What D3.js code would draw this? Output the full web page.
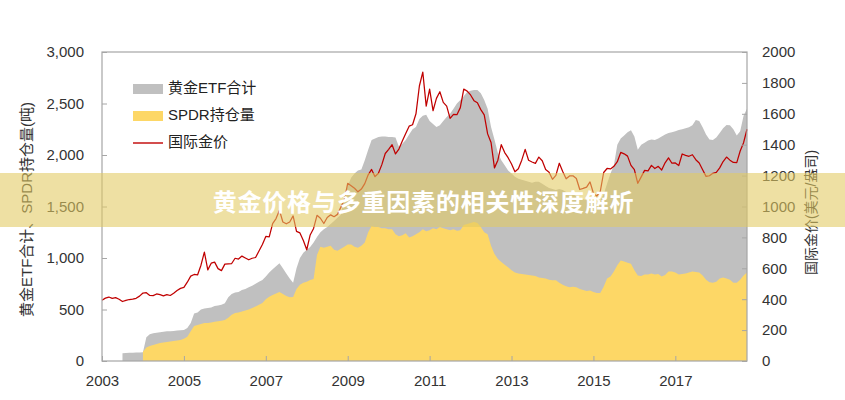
<!DOCTYPE html>
<html>
<head>
<meta charset="utf-8">
<script src="https://cdn.jsdelivr.net/npm/d3@7"></script>
<style>
    body { margin: 0; background: #fff; }
    svg { display: block; font-family: "Liberation Sans", Arial, "Noto Sans CJK SC", sans-serif; }
</style>
</head>
<body>
<div id="root"></div>
<script>
// eje X: mensual, empieza en 2003
const startYear = 2003
const endYear = 2018.75
const yearTicks = [2003, 2005, 2007, 2009, 2011, 2013, 2015, 2017]
const leftTicks = [0, 500, 1000, 1500, 2000, 2500, 3000]
const rightTicks = [0, 200, 400, 600, 800, 1000, 1200, 1400, 1600, 1800, 2000]

const legendLabels = ["黄金ETF合计", "SPDR持仓量", "国际金价"]

// 黄金ETF合计 (吨)
const etfTotal = [
    null, null, null, null, null, null, 75, 78, 80, 80, 82, 82,
    85, 230, 260, 270, 275, 280, 285, 288, 290, 292, 295, 298,
    300, 320, 370, 460, 470, 500, 510, 515, 520, 535, 540, 545,
    560, 620, 650, 665, 670, 690, 700, 715, 730, 750, 770, 786,
    820, 860, 890, 920, 950, 900, 850, 800, 760, 900, 1000, 1050,
    1080, 1107, 1150, 1204, 1250, 1280, 1301, 1330, 1360, 1390, 1420, 1600,
    1700, 1780, 1820, 1850, 1860, 1950, 2050, 2145, 2160, 2175, 2180, 2180,
    2175, 2175, 2170, 2080, 2110, 2145, 2200, 2250, 2272, 2350, 2380, 2390,
    2330, 2300, 2272, 2290, 2330, 2369, 2400, 2450, 2500, 2534, 2570, 2612,
    2625, 2631, 2630, 2600, 2534, 2450, 2272, 2150, 2019, 1950, 1900, 1850,
    1820, 1790, 1770, 1760, 1750, 1740, 1730, 1740, 1740, 1720, 1700, 1680,
    1670, 1660, 1670, 1660, 1640, 1620, 1620, 1600, 1580, 1570, 1560, 1550,
    1540, 1530, 1560, 1620, 1720, 1820, 1900, 2100, 2160, 2190, 2220, 2240,
    2180, 2050, 2100, 2120, 2140, 2150, 2145, 2160, 2180, 2200, 2214, 2220,
    2230, 2243, 2250, 2260, 2270, 2290, 2340, 2330, 2270, 2200, 2150, 2145,
    2170, 2214, 2260, 2291, 2290, 2250, 2190, 2230, 2380, 2450
]

// SPDR持仓量 (吨)
const spdrHolding = [
    null, null, null, null, null, null, null, null, null, null, null, null,
    90, 130, 145, 155, 165, 175, 180, 185, 190, 195, 200, 205,
    215, 235, 290, 340, 350, 360, 368, 370, 375, 380, 385, 390,
    398, 420, 450, 466, 470, 480, 490, 500, 515, 530, 545, 563,
    600, 625, 640, 655, 670, 650, 630, 620, 621, 700, 740, 760,
    770, 786, 795, 1030, 1110, 1100, 1110, 1120, 1080, 1070, 1090, 1110,
    1130, 1130, 1110, 1100, 1120, 1150, 1250, 1310, 1300, 1300, 1290, 1290,
    1280, 1280, 1230, 1210, 1220, 1240, 1200, 1210, 1230, 1250, 1280, 1260,
    1270, 1290, 1280, 1300, 1290, 1280, 1270, 1280, 1265, 1270, 1320, 1330,
    1340, 1350, 1340, 1300, 1250, 1230, 1120, 1040, 990, 960, 935, 910,
    880, 860, 850, 845, 840, 835, 830, 825, 810, 805, 800, 790,
    785, 785, 760, 740, 725, 715, 720, 715, 700, 690, 680, 685,
    670, 660, 660, 720, 800, 820, 870, 930, 975, 965, 955, 945,
    880, 830, 825, 840, 840, 850, 840, 845, 820, 835, 870, 870,
    860, 840, 845, 850, 860, 870, 865, 860, 830, 790, 765, 760,
    770, 800, 810, 800, 790, 760, 760, 790, 830, 860
]

// 国际金价 (美元/盎司)
const goldPrice = [
    393, 407, 414, 405, 410, 400, 385, 392, 398, 400, 406, 420,
    440, 442, 424, 423, 434, 429, 422, 430, 424, 438, 456, 470,
    476, 510, 549, 560, 557, 620, 705, 590, 633, 640, 598, 585,
    627, 629, 631, 665, 660, 679, 667, 655, 665, 670, 712, 754,
    806, 803, 889, 922, 975, 900, 888, 900, 939, 839, 829, 780,
    720, 816, 858, 943, 924, 890, 929, 946, 934, 949, 996, 1043,
    1150, 1134, 1118, 1095, 1113, 1148, 1205, 1240, 1193, 1215, 1271, 1343,
    1370, 1400, 1340, 1372, 1424, 1473, 1520, 1529, 1600, 1780, 1870, 1650,
    1760, 1620, 1700, 1743, 1674, 1650, 1570, 1596, 1594, 1640, 1760, 1747,
    1722, 1685, 1671, 1627, 1593, 1470, 1414, 1250, 1300, 1400, 1349, 1316,
    1275, 1225, 1244, 1300, 1370, 1299, 1288, 1279, 1320, 1296, 1239, 1222,
    1176, 1201, 1280, 1227, 1179, 1198, 1199, 1181, 1110, 1117, 1125, 1159,
    1086, 1068, 1097, 1220, 1246, 1243, 1260, 1290, 1350, 1341, 1326, 1266,
    1238, 1150, 1192, 1234, 1231, 1266, 1246, 1260, 1236, 1283, 1315, 1280,
    1282, 1265, 1340, 1331, 1325, 1335, 1303, 1282, 1238, 1195, 1199, 1215,
    1221, 1250, 1291, 1320, 1300, 1285, 1284, 1359, 1413, 1500
]

const bannerText = "黄金价格与多重因素的相关性深度解析"

const width = 845
const height = 400
const margin = { top: 52, right: 98, bottom: 39, left: 102 }
const w = width - margin.left - margin.right
const h = height - margin.top - margin.bottom

const months = goldPrice.map((_, i) => startYear + i / 12)

const x = d3.scaleLinear().domain([startYear, endYear]).range([0, w])
const yLeft = d3.scaleLinear().domain([0, 3000]).range([h, 0])
const yRight = d3.scaleLinear().domain([0, 2000]).range([h, 0])

const svg = d3.select("#root")
    .append("svg")
    .attr("width", width)
    .attr("height", height)

const group = svg.append("g")
    .attr("transform", `translate(${margin.left} ${margin.top})`)

// areas
const areaEtf = d3.area()
    .defined((d, i) => etfTotal[i] != null)
    .x((d, i) => x(months[i]))
    .y0(yLeft(0))
    .y1((d, i) => yLeft(etfTotal[i]))

const areaSpdr = d3.area()
    .defined((d, i) => spdrHolding[i] != null)
    .x((d, i) => x(months[i]))
    .y0(yLeft(0))
    .y1((d, i) => yLeft(spdrHolding[i]))

const linePrice = d3.line()
    .x((d, i) => x(months[i]))
    .y(d => yRight(d))

group.append("path")
    .attr("d", areaEtf(etfTotal))
    .attr("fill", "#c0c0c0")

group.append("path")
    .attr("d", areaSpdr(spdrHolding))
    .attr("fill", "#fdd766")

group.append("path")
    .attr("d", linePrice(goldPrice))
    .attr("fill", "none")
    .attr("stroke", "#c00000")
    .attr("stroke-width", 1.25)
    .attr("stroke-linejoin", "round")

// marco
group.append("rect")
    .attr("width", w)
    .attr("height", h)
    .attr("fill", "none")
    .attr("stroke", "#a6a6a6")
    .attr("stroke-width", 1.2)

const axisColor = "#a6a6a6"
const textColor = "#333"

const gLeft = group.append("g")
    .call(d3.axisLeft(yLeft).tickValues(leftTicks).tickSize(-5).tickPadding(18).tickFormat(d3.format(",")))
gLeft.select(".domain").remove()

const gRight = group.append("g")
    .attr("transform", `translate(${w} 0)`)
    .call(d3.axisRight(yRight).tickValues(rightTicks).tickSize(-5).tickPadding(15).tickFormat(d3.format("d")))
gRight.select(".domain").remove()

const gBottom = group.append("g")
    .attr("transform", `translate(0 ${h})`)
    .call(d3.axisBottom(x).tickValues(yearTicks).tickSize(-5).tickPadding(14).tickFormat(d3.format("d")))
gBottom.select(".domain").remove()

;[gLeft, gRight, gBottom].forEach(g => {
    g.selectAll("line").attr("stroke", axisColor)
    g.selectAll("text")
        .attr("fill", textColor)
        .style("font-size", "15px")
        .style("font-family", "'Liberation Sans', Arial, sans-serif")
})

// titulos de ejes
svg.append("text")
    .attr("transform", `translate(32 ${margin.top + h / 2 + 3}) rotate(-90)`)
    .attr("text-anchor", "middle")
    .attr("fill", textColor)
    .style("font-size", "15px")
    .text("黄金ETF合计、SPDR持仓量(吨)")

svg.append("text")
    .attr("transform", `translate(816 ${margin.top + h / 2 + 6}) rotate(-90)`)
    .attr("text-anchor", "middle")
    .attr("fill", textColor)
    .style("font-size", "14px")
    .text("国际金价(美元/盎司)")

// leyenda
const legend = group.append("g")
    .attr("transform", "translate(31 37)")

const legendItems = legend.selectAll("g")
    .data(legendLabels)
    .enter()
    .append("g")
    .attr("transform", (d, i) => `translate(0 ${i * 27})`)

legendItems.filter((d, i) => i < 2)
    .append("rect")
    .attr("x", 0)
    .attr("y", -5)
    .attr("width", 30)
    .attr("height", 10)
    .attr("fill", (d, i) => i === 0 ? "#c0c0c0" : "#fdd766")

legendItems.filter((d, i) => i === 2)
    .append("line")
    .attr("x1", 0)
    .attr("x2", 30)
    .attr("stroke", "#c00000")
    .attr("stroke-width", 1.4)

legendItems.append("text")
    .attr("x", 35)
    .attr("dominant-baseline", "middle")
    .attr("fill", "#222")
    .style("font-size", "15px")
    .text(d => d)

// banda del titulo
svg.append("rect")
    .attr("x", 0)
    .attr("y", 173)
    .attr("width", width)
    .attr("height", 54)
    .attr("fill", "rgb(226, 202, 96)")
    .attr("fill-opacity", 0.58)

svg.append("text")
    .attr("x", width / 2 + 1)
    .attr("y", 200)
    .attr("text-anchor", "middle")
    .attr("dominant-baseline", "central")
    .attr("fill", "#fff")
    .attr("font-weight", "700")
    .style("font-family", "'Noto Sans CJK SC', sans-serif")
    .style("font-size", "24px")
    .style("letter-spacing", "0.8px")
    .text(bannerText)
</script>
</body>
</html>
